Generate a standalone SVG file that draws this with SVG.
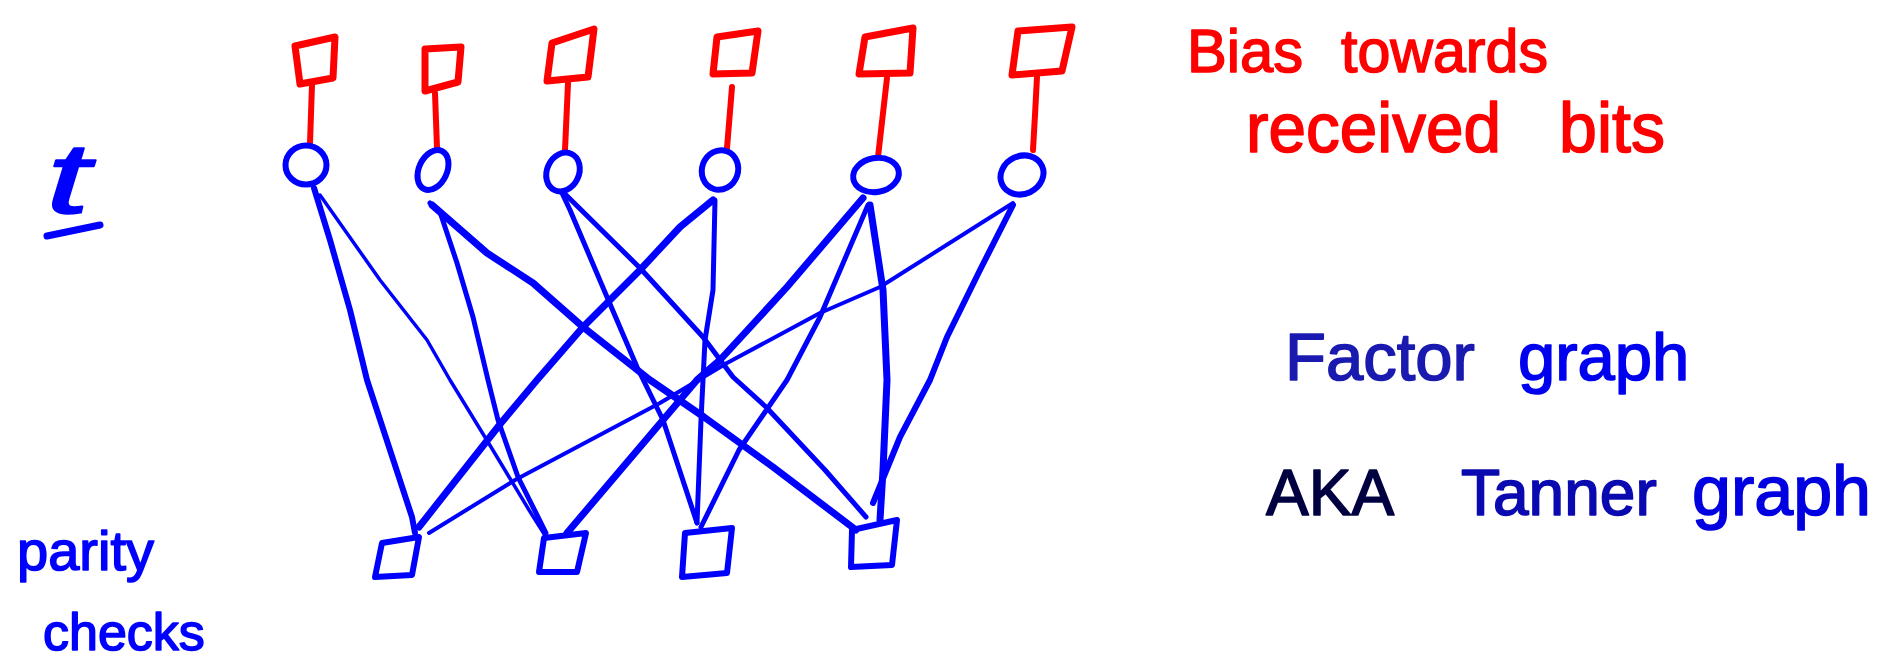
<svg xmlns="http://www.w3.org/2000/svg" width="1894" height="659" viewBox="0 0 1894 659">
<style>
.bias{fill:none;stroke:#ff0000;stroke-width:7;stroke-linejoin:round}
.var{fill:none;stroke:#0000ff;stroke-width:6}
.chk{fill:none;stroke:#0000ff;stroke-width:6;stroke-linejoin:round}
.stem{fill:none;stroke:#ff0000;stroke-width:6;stroke-linecap:round}
.e{fill:none;stroke:#0000ff;stroke-linecap:round;stroke-linejoin:round}
.w3{stroke-width:3.5}.w4{stroke-width:4}.w5{stroke-width:5}.w6{stroke-width:6}.w7{stroke-width:7}
.hand{font-family:"Liberation Sans",Arial,sans-serif;stroke-width:1.6;stroke-linejoin:round}
</style>
<rect width="1894" height="659" fill="#ffffff"/>

<g id="connectors">
  <path class="stem" d="M312,85 L310,143"/>
  <path class="stem" d="M435,93 L437,148"/>
  <path class="stem" d="M568,83 L565,150"/>
  <path class="stem" d="M732,87 L727,148"/>
  <path class="stem" d="M887,78 L878,157"/>
  <path class="stem" d="M1037,77 L1035,115 L1033,150"/>

  <path class="e w6" d="M314,188 L330,240 L350,310 L367,380 L412,517 L415,533"/>
  <path class="e w3" d="M320,195 L380,280 L427,340 L450,380 L491,447 L529,510 L546,537"/>
  <path class="e w5" d="M430,203 L440,212 L457,263 L473,317 L488,380 L498,420 L518,477 L546,533"/>
  <path class="e w7" d="M432,205 L487,253 L533,283 L583,327 L650,380 L704,417 L773,467 L856,530"/>
  <path class="e w5" d="M562,193 L570,210 L607,297 L637,367 L663,420 L697,523"/>
  <path class="e w5" d="M564,193 L640,268 L703,337 L733,377 L766,407 L825,470 L866,517"/>
  <path class="e w7" d="M713,200 L680,227 L640,270 L583,327 L537,380 L501,423 L419,527"/>
  <path class="e w5" d="M715,200 L713,290 L705,340 L703,380 L701,420 L697,523"/>
  <path class="e w7" d="M863,198 L787,287 L720,360 L697,380 L663,420 L567,533"/>
  <path class="e w5" d="M868,205 L820,317 L787,380 L739,450 L701,527"/>
  <path class="e w7" d="M870,205 L883,290 L887,380 L883,470 L880,520"/>
  <path class="e w4" d="M1013,203 L880,287 L820,313 L727,363 L660,403 L515,480 L429,533"/>
  <path class="e w6" d="M1013,205 L980,270 L947,337 L930,380 L900,437 L873,503"/>
</g>

<g id="bias1"><polygon class="bias" points="295,46 335,37 333,78 300,84"/></g>
<g id="bias2"><polygon class="bias" points="425,49 461,47 458,82 425,91"/></g>
<g id="bias3"><polygon class="bias" points="552,43 594,29 588,77 547,81"/></g>
<g id="bias4"><polygon class="bias" points="717,37 758,31 752,73 713,74"/></g>
<g id="bias5"><polygon class="bias" points="865,37 913,28 910,73 859,74"/></g>
<g id="bias6"><polygon class="bias" points="1018,31 1072,27 1062,71 1012,75"/></g>

<g id="var1"><ellipse class="var" cx="306" cy="165" rx="20.5" ry="19.5"/></g>
<g id="var2"><ellipse class="var" cx="433" cy="170" rx="14" ry="21" transform="rotate(25 433 170)"/></g>
<g id="var3"><ellipse class="var" cx="563" cy="172" rx="16" ry="20" transform="rotate(25 563 172)"/></g>
<g id="var4"><ellipse class="var" cx="720" cy="170" rx="18" ry="20" transform="rotate(20 720 170)"/></g>
<g id="var5"><ellipse class="var" cx="876" cy="175" rx="23" ry="17" transform="rotate(-10 876 175)"/></g>
<g id="var6"><ellipse class="var" cx="1022" cy="175" rx="22" ry="19" transform="rotate(-25 1022 175)"/></g>

<g id="check1"><polygon class="chk" points="382,543 419,537 412,575 375,577"/></g>
<g id="check2"><polygon class="chk" points="544,538 586,533 577,572 539,572"/></g>
<g id="check3"><polygon class="chk" points="685,533 732,528 727,573 682,577"/></g>
<g id="check4"><polygon class="chk" points="852,530 897,520 892,565 851,567"/></g>

<g id="label-t">
  <text class="hand" x="46" y="213" font-size="100" font-style="italic" fill="#0000ff" stroke="#0000ff" stroke-width="0.5" textLength="44" lengthAdjust="spacingAndGlyphs">t</text>
  <line x1="47" y1="236" x2="100" y2="225" stroke="#0000ff" stroke-width="7" stroke-linecap="round"/>
</g>

<g id="label-bias" class="hand" fill="#ff0000" stroke="#ff0000">
  <text y="72" font-size="62"><tspan x="1187" textLength="116" lengthAdjust="spacingAndGlyphs">Bias</tspan> <tspan x="1341" textLength="207" lengthAdjust="spacingAndGlyphs">towards</tspan></text>
  <text y="152" font-size="70"><tspan x="1246" textLength="255" lengthAdjust="spacingAndGlyphs">received</tspan> <tspan x="1559" textLength="106" lengthAdjust="spacingAndGlyphs">bits</tspan></text>
</g>

<g id="label-parity" class="hand" fill="#0000ff" stroke="#0000ff">
  <text x="17" y="570" font-size="56">parity</text>
  <text x="43" y="650" font-size="52">checks</text>
</g>

<g id="label-factor" class="hand">
  <text y="380" font-size="67" fill="#1a1ab0" stroke="#1a1ab0"><tspan x="1285">Factor</tspan> <tspan x="1518" fill="#0000f0" stroke="#0000f0">graph</tspan></text>
  <text y="515" font-size="64"><tspan x="1266" fill="#000040" stroke="#000040">AKA</tspan> <tspan x="1461" fill="#0a0ab0" stroke="#0a0ab0">Tanner</tspan> <tspan x="1692" font-size="70" fill="#0000e0" stroke="#0000e0">graph</tspan></text>
</g>
</svg>
